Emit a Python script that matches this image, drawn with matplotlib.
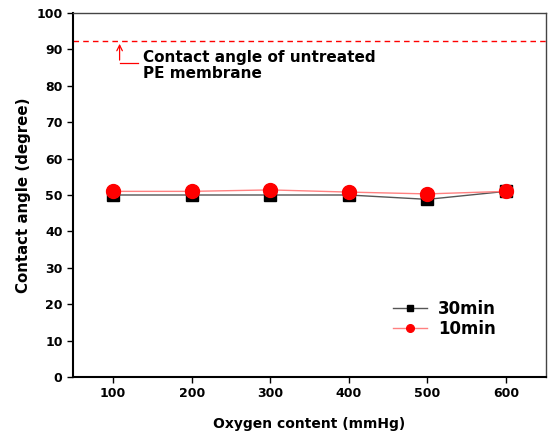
import matplotlib
import matplotlib.pyplot as plt

matplotlib.use("Agg")

oxygen = [100, 200, 300, 400, 500, 600]
angle_30min = [50.0, 50.0, 50.0, 50.0, 48.8, 51.0]
angle_10min = [51.0, 51.0, 51.4, 50.8, 50.3, 51.0]
untreated_angle = 92.3

plt.rcParams["font.family"] = "DejaVu Sans"
plt.rcParams["font.weight"] = "bold"

fig = plt.figure(figsize=(5.49, 4.36), dpi=100)
ax = fig.add_axes([73 / 549, 1 - 377 / 436, 473 / 549, 364 / 436])

ax.plot(oxygen, angle_30min, color="#555555", linewidth=1.0, marker="s",
        markersize=8, markerfacecolor="black", markeredgecolor="black", label="30min")
ax.plot(oxygen, angle_10min, color="#ff8080", linewidth=1.0, marker="o",
        markersize=10, markerfacecolor="red", markeredgecolor="red", label="10min")

ax.axhline(untreated_angle, color="red", linestyle=(0, (4, 3)), linewidth=1.0)

# L-shaped pointer from the label up to the dashed line
ax.annotate("", xy=(108.3, untreated_angle), xytext=(108.3, 86.3),
            arrowprops=dict(arrowstyle="->", color="red", lw=0.9))
ax.plot([108.3, 132], [86.3, 86.3], color="red", linewidth=0.9)
ax.text(138, 85.6, "Contact angle of untreated\nPE membrane", fontsize=11,
        fontweight="bold", va="center", ha="left", linespacing=1.15)

ax.set_xlim(49, 651)
ax.set_ylim(0, 100)
ax.set_xticks(oxygen)
ax.set_yticks(range(0, 101, 10))
ax.tick_params(axis="both", labelsize=9, direction="out", length=4, width=1)
ax.tick_params(top=False, right=False)
for s in ax.spines.values():
    s.set_linewidth(1.0)
    s.set_color("#444444")
ax.spines["left"].set_linewidth(1.5)
ax.spines["bottom"].set_linewidth(1.5)
ax.spines["left"].set_color("black")
ax.spines["bottom"].set_color("black")

ax.set_xlabel("Oxygen content (mmHg)", fontsize=10, fontweight="bold", labelpad=12)
ax.set_ylabel("Contact angle (degree)", fontsize=10.8, fontweight="bold", labelpad=4)

leg = ax.legend(loc="upper left", bbox_to_anchor=(0.677, 0.212), frameon=False,
                fontsize=12, handlelength=2.0, handletextpad=0.7, markerscale=0.55,
                borderpad=0, borderaxespad=0, labelspacing=0.15)

fig.savefig("out.png", dpi=100)
